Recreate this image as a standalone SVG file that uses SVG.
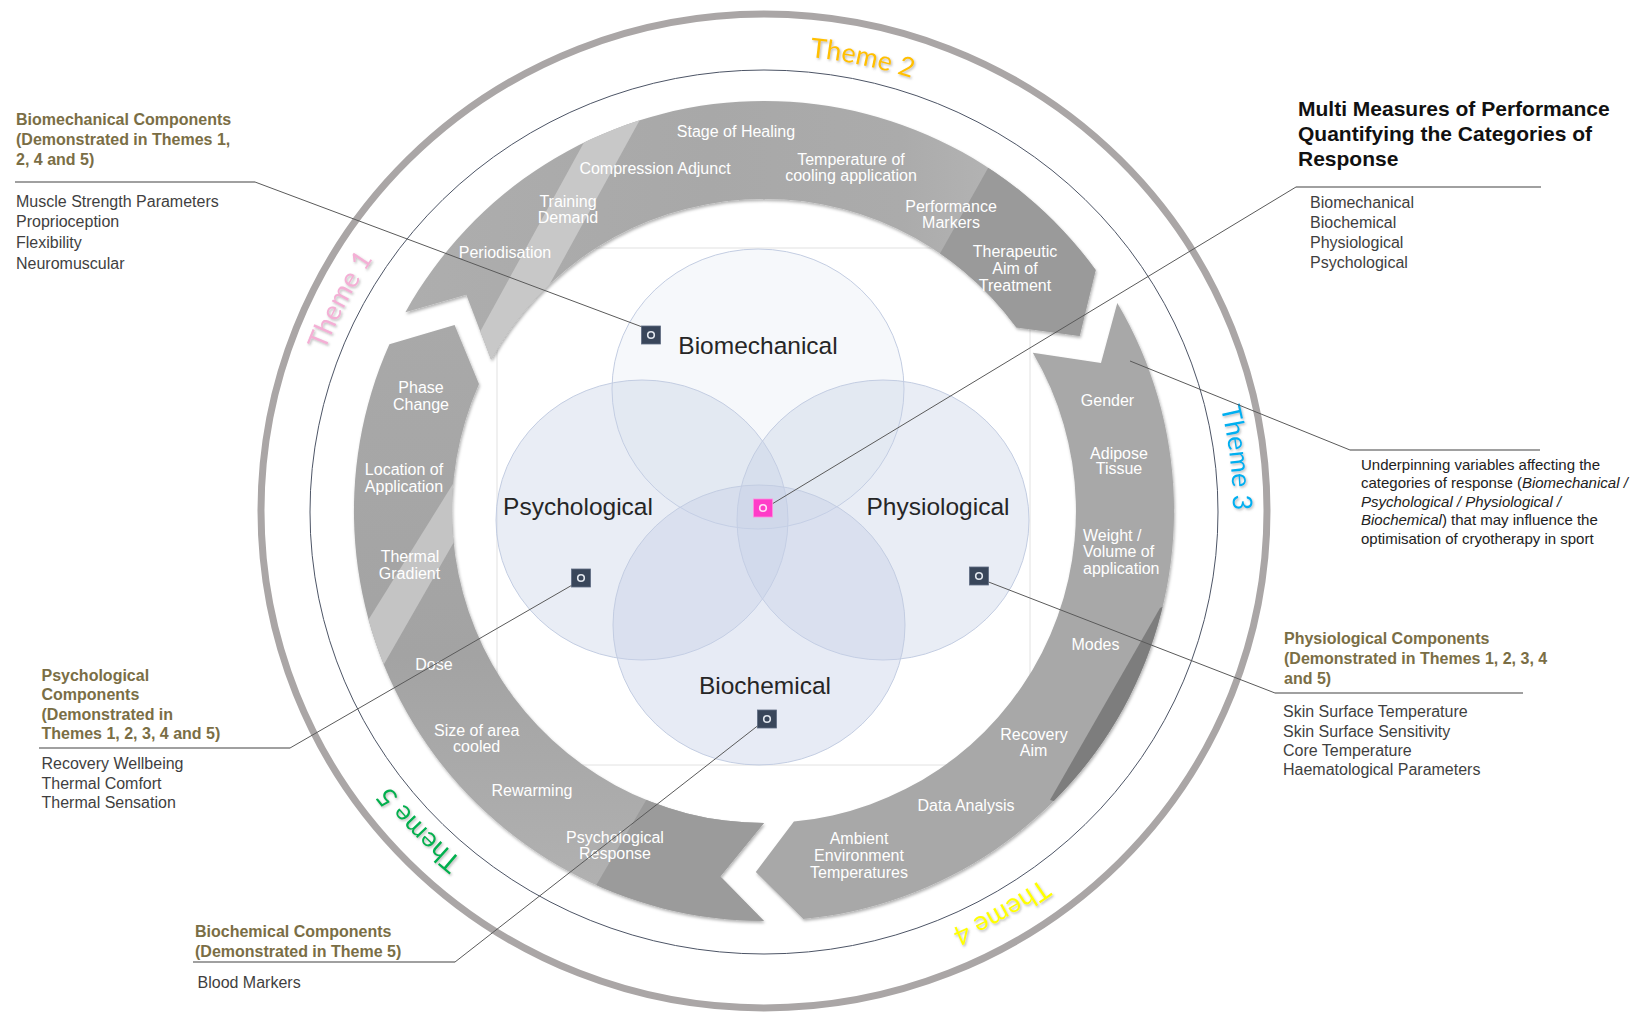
<svg xmlns="http://www.w3.org/2000/svg" width="1642" height="1013" viewBox="0 0 1642 1013">
  <style>
    .lbl { font-family: "Liberation Sans", Arial, sans-serif; font-size: 16px; fill: #ffffff; text-anchor: middle; }
    .lbl-l { font-family: "Liberation Sans", Arial, sans-serif; font-size: 16px; fill: #ffffff; }
    .venn-t { font-family: "Liberation Sans", Arial, sans-serif; font-size: 24.5px; fill: #262626; text-anchor: middle; }
    .head { font-family: "Liberation Sans", Arial, sans-serif; font-weight: bold; font-size: 16px; fill: #7a6e45; }
    .title { font-family: "Liberation Sans", Arial, sans-serif; font-weight: bold; font-size: 21px; fill: #111111; }
    .item { font-family: "Liberation Sans", Arial, sans-serif; font-size: 16px; fill: #3f3f3f; }
    .note { font-family: "Liberation Sans", Arial, sans-serif; font-size: 15px; fill: #222222; }
    .rule { stroke: #808080; stroke-width: 1.3; fill: none; }
    .lead { stroke: #5a5a5a; stroke-width: 1; fill: none; }
    .theme { font-family: Lato, "Open Sans", sans-serif; font-size: 27px; text-anchor: middle; }
    .venn { stroke: #c3cde2; stroke-width: 1; fill: #c5d0e6; }
    .mk rect { fill: #39465a; stroke: #5f6c82; stroke-width: 0.8; }
    .mk circle { fill: none; stroke: #e3e8ef; stroke-width: 1.6; }
    .mk.hub rect { fill: #ff3cc8; stroke: #ff8ee0; }
    .mk.hub circle { stroke: #ffe3f6; }
  </style>
  <defs>
    <filter id="shade" x="-5%" y="-5%" width="110%" height="110%">
      <feDropShadow dx="1" dy="2" stdDeviation="1.6" flood-color="#000000" flood-opacity="0.3"/>
    </filter>
    <filter id="tshadow" x="-20%" y="-20%" width="140%" height="140%">
      <feDropShadow dx="1.2" dy="1.5" stdDeviation="1" flood-color="#6b6b6b" flood-opacity="0.45"/>
    </filter>
    <linearGradient id="gA" gradientUnits="userSpaceOnUse" x1="390" y1="0" x2="1100" y2="0">
      <stop offset="0" stop-color="#aeaeae"/>
      <stop offset="0.45" stop-color="#a8a8a8"/>
      <stop offset="0.72" stop-color="#ababab"/>
      <stop offset="0.85" stop-color="#b3b3b3"/>
    </linearGradient>
    <linearGradient id="gC" gradientUnits="userSpaceOnUse" x1="0" y1="320" x2="0" y2="930">
      <stop offset="0" stop-color="#a9a9a9"/>
      <stop offset="0.55" stop-color="#a3a3a3"/>
      <stop offset="0.8" stop-color="#acacac"/>
      <stop offset="1" stop-color="#b4b4b4"/>
    </linearGradient>
    <!-- arrow outlines on the ring: centre (764,511), outer r 410, inner r 312 -->
    <path id="arrowA" d="M 405.4 312.2 A 410 410 0 0 1 1095.7 270.0 L 1079.7 336.0 L 1016.4 327.6 A 312 312 0 0 0 491.1 359.7 L 466.3 294.7 Z"/>
    <path id="arrowB" d="M 1117.3 302.9 A 410 410 0 0 1 803.3 919.1 L 755.8 871.9 L 793.9 821.6 A 312 312 0 0 0 1032.8 352.7 L 1101.0 363.1 Z"/>
    <path id="arrowC" d="M 764 921 A 410 410 0 0 1 389.4 344.2 L 454.6 325.1 L 479.0 384.1 A 312 312 0 0 0 764 823 L 720.4 876.4 Z"/>
    <clipPath id="clipA"><use href="#arrowA"/></clipPath>
    <clipPath id="clipB"><use href="#arrowB"/></clipPath>
    <clipPath id="clipC"><use href="#arrowC"/></clipPath>
    <!-- baselines for the theme captions, running clockwise -->
    <path id="t1p" d="M 298.5 455.4 A 469 456 0 0 1 444.1 177.5"/>
    <path id="t2p" d="M 698.7 59.4 A 469 456 0 0 1 1012.5 124.3"/>
    <path id="t3p" d="M 1183.4 306.8 A 469 456 0 0 1 1220.2 616.7"/>
    <path id="t4p" d="M 1123.3 804.1 A 469 456 0 0 1 845.4 960.1"/>
    <path id="t5p" d="M 554.0 918.7 A 469 456 0 0 1 333.6 692.1"/>
  </defs>

  <rect width="1642" height="1013" fill="#ffffff"/>

  <!-- outer rings -->
  <g id="rings">
    <ellipse cx="764" cy="511" rx="503" ry="497" fill="none" stroke="#aaa6a6" stroke-width="7"/>
    <ellipse cx="764" cy="512" rx="454" ry="442" fill="none" stroke="#4d5566" stroke-width="1"/>
  </g>

  <!-- theme captions -->
  <g id="themes" class="theme" filter="url(#tshadow)">
    <text fill="#f4afd5"><textPath href="#t1p" startOffset="50%">Theme 1</textPath></text>
    <text fill="#ffc000"><textPath href="#t2p" startOffset="50%">Theme 2</textPath></text>
    <text fill="#00b0f0"><textPath href="#t3p" startOffset="50%">Theme 3</textPath></text>
    <text fill="#ffff00"><textPath href="#t4p" startOffset="50%">Theme 4</textPath></text>
    <text fill="#00b050"><textPath href="#t5p" startOffset="50%">Theme 5</textPath></text>
  </g>

  <!-- frame behind the Venn -->
  <rect x="497" y="248" width="533" height="517" fill="none" stroke="#e2e2e2" stroke-width="1"/>

  <!-- Venn of the four categories of response -->
  <g id="venn">
    <g id="venn-biomechanical">
      <ellipse class="venn" cx="758" cy="389" rx="146" ry="140" fill-opacity="0.15"/>
    </g>
    <g id="venn-psychological">
      <ellipse class="venn" cx="642" cy="520" rx="146" ry="140" fill-opacity="0.38"/>
    </g>
    <g id="venn-physiological">
      <ellipse class="venn" cx="883" cy="520" rx="146" ry="140" fill-opacity="0.38"/>
    </g>
    <g id="venn-biochemical">
      <ellipse class="venn" cx="759" cy="625" rx="146" ry="140" fill-opacity="0.42"/>
    </g>
    <text class="venn-t" x="758" y="354">Biomechanical</text>
    <text class="venn-t" x="578" y="515">Psychological</text>
    <text class="venn-t" x="938" y="515">Physiological</text>
    <text class="venn-t" x="765" y="694">Biochemical</text>
  </g>

  <!-- top arrow -->
  <g id="arrow-top">
    <g filter="url(#shade)"><use href="#arrowA" fill="url(#gA)"/></g>
    <g clip-path="url(#clipA)">
      <polygon points="610,95 653.5,95 497,380 453.6,380" fill="#c8c8c8"/>
      <polygon points="1003.8,140 1130,140 1130,345 888.5,345" fill="#9a9a9a"/>
    </g>
    <text class="lbl" x="736" y="136.5">Stage of Healing</text>
    <text class="lbl" x="655" y="173.5">Compression Adjunct</text>
    <text class="lbl" x="851" y="164.5">Temperature of</text>
    <text class="lbl" x="851" y="181">cooling application</text>
    <text class="lbl" x="568" y="206.5">Training</text>
    <text class="lbl" x="568" y="222.5">Demand</text>
    <text class="lbl" x="505" y="258">Periodisation</text>
    <text class="lbl" x="951" y="211.5">Performance</text>
    <text class="lbl" x="951" y="228">Markers</text>
    <text class="lbl" x="1015" y="257">Therapeutic</text>
    <text class="lbl" x="1015" y="274">Aim of</text>
    <text class="lbl" x="1015" y="291">Treatment</text>
  </g>

  <!-- right arrow -->
  <g id="arrow-right">
    <g filter="url(#shade)"><use href="#arrowB" fill="#a8a8a8"/></g>
    <g clip-path="url(#clipB)">
      <polygon points="1160,608 1260,560 1260,860 1050,800" fill="#7d7d7d"/>
    </g>
    <text class="lbl" x="1107.5" y="406">Gender</text>
    <text class="lbl" x="1119" y="458.5">Adipose</text>
    <text class="lbl" x="1119" y="473.5">Tissue</text>
    <text class="lbl-l" x="1083" y="540.5">Weight /</text>
    <text class="lbl-l" x="1083" y="556.5">Volume of</text>
    <text class="lbl-l" x="1083" y="574">application</text>
    <text class="lbl" x="1095.5" y="650">Modes</text>
    <text class="lbl" x="1034" y="739.5">Recovery</text>
    <text class="lbl" x="1033.5" y="756">Aim</text>
    <text class="lbl" x="966" y="811">Data Analysis</text>
    <text class="lbl" x="859" y="843.5">Ambient</text>
    <text class="lbl" x="859" y="860.5">Environment</text>
    <text class="lbl" x="859" y="878">Temperatures</text>
  </g>

  <!-- left arrow -->
  <g id="arrow-left">
    <g filter="url(#shade)"><use href="#arrowC" fill="url(#gC)"/></g>
    <g clip-path="url(#clipC)">
      <polygon points="474,450 331,680 352,720 478,500" fill="#c4c4c4"/>
      <polygon points="658,780 800,780 800,940 564,940" fill="#9b9b9b"/>
    </g>
    <text class="lbl" x="421" y="392.5">Phase</text>
    <text class="lbl" x="421" y="410">Change</text>
    <text class="lbl" x="404" y="475">Location of</text>
    <text class="lbl" x="404" y="491.5">Application</text>
    <text class="lbl" x="410" y="561.5">Thermal</text>
    <text class="lbl" x="409.5" y="578.5">Gradient</text>
    <text class="lbl" x="434" y="669.5">Dose</text>
    <text class="lbl" x="476.7" y="735.5">Size of area</text>
    <text class="lbl" x="476.7" y="751.5">cooled</text>
    <text class="lbl" x="532" y="796">Rewarming</text>
    <text class="lbl" x="615" y="842.5">Psychological</text>
    <text class="lbl" x="615" y="859">Response</text>
  </g>

  <!-- leader lines from markers to callouts -->
  <g id="connectors" class="lead">
    <line x1="255" y1="182" x2="645" y2="328"/>
    <line x1="1296" y1="187" x2="772" y2="504"/>
    <line x1="1350" y1="450" x2="1130" y2="361"/>
    <line x1="1275" y1="693" x2="986" y2="581"/>
    <line x1="290" y1="748" x2="574" y2="584"/>
    <line x1="455" y1="962" x2="760" y2="724"/>
  </g>

  <!-- markers -->
  <g id="marker-biomechanical" class="mk"><rect x="641.5" y="326" width="19" height="18"/><circle cx="651" cy="335" r="3.3"/></g>
  <g id="marker-hub" class="mk hub"><rect x="753.5" y="499" width="19" height="18"/><circle cx="763" cy="508" r="3.3"/></g>
  <g id="marker-psychological" class="mk"><rect x="571.5" y="569" width="19" height="18"/><circle cx="581" cy="578" r="3.3"/></g>
  <g id="marker-physiological" class="mk"><rect x="969.5" y="567" width="19" height="18"/><circle cx="979" cy="576" r="3.3"/></g>
  <g id="marker-biochemical" class="mk"><rect x="757.5" y="710" width="19" height="18"/><circle cx="767" cy="719" r="3.3"/></g>

  <!-- callouts -->
  <g id="callout-biomechanical">
    <text class="head" x="16" y="125">Biomechanical Components</text>
    <text class="head" x="16" y="145">(Demonstrated in Themes 1,</text>
    <text class="head" x="16" y="165">2, 4 and 5)</text>
    <line class="rule" x1="15" y1="182" x2="255" y2="182"/>
    <text class="item" x="16" y="207">Muscle Strength Parameters</text>
    <text class="item" x="16" y="227">Proprioception</text>
    <text class="item" x="16" y="248">Flexibility</text>
    <text class="item" x="16" y="269">Neuromuscular</text>
  </g>

  <g id="callout-measures">
    <text class="title" x="1298" y="116">Multi Measures of Performance</text>
    <text class="title" x="1298" y="141">Quantifying the Categories of</text>
    <text class="title" x="1298" y="165.5">Response</text>
    <line class="rule" x1="1296" y1="187" x2="1541" y2="187"/>
    <text class="item" x="1310" y="207.5">Biomechanical</text>
    <text class="item" x="1310" y="227.5">Biochemical</text>
    <text class="item" x="1310" y="247.5">Physiological</text>
    <text class="item" x="1310" y="267.5">Psychological</text>
  </g>

  <g id="callout-variables">
    <line class="rule" x1="1350" y1="450" x2="1540" y2="450"/>
    <text class="note" x="1361" y="469.5">Underpinning variables affecting the</text>
    <text class="note" x="1361" y="488">categories of response (<tspan font-style="italic">Biomechanical /</tspan></text>
    <text class="note" x="1361" y="506.7" font-style="italic">Psychological / Physiological /</text>
    <text class="note" x="1361" y="525.3"><tspan font-style="italic">Biochemical</tspan>) that may influence the</text>
    <text class="note" x="1361" y="544">optimisation of cryotherapy in sport</text>
  </g>

  <g id="callout-physiological">
    <text class="head" x="1284" y="644">Physiological Components</text>
    <text class="head" x="1284" y="664">(Demonstrated in Themes 1, 2, 3, 4</text>
    <text class="head" x="1284" y="684">and 5)</text>
    <line class="rule" x1="1275" y1="693" x2="1523" y2="693"/>
    <text class="item" x="1283" y="717">Skin Surface Temperature</text>
    <text class="item" x="1283" y="736.5">Skin Surface Sensitivity</text>
    <text class="item" x="1283" y="756">Core Temperature</text>
    <text class="item" x="1283" y="775">Haematological Parameters</text>
  </g>

  <g id="callout-psychological">
    <text class="head" x="41.5" y="680.5">Psychological</text>
    <text class="head" x="41.5" y="700">Components</text>
    <text class="head" x="41.5" y="719.5">(Demonstrated in</text>
    <text class="head" x="41.5" y="739">Themes 1, 2, 3, 4 and 5)</text>
    <line class="rule" x1="39" y1="748" x2="290" y2="748"/>
    <text class="item" x="41.5" y="769">Recovery  Wellbeing</text>
    <text class="item" x="41.5" y="788.5">Thermal Comfort</text>
    <text class="item" x="41.5" y="808">Thermal Sensation</text>
  </g>

  <g id="callout-biochemical">
    <text class="head" x="195" y="936.7">Biochemical Components</text>
    <text class="head" x="195" y="957">(Demonstrated in Theme 5)</text>
    <line class="rule" x1="193" y1="962" x2="455" y2="962"/>
    <text class="item" x="197.5" y="987.5">Blood Markers</text>
  </g>
</svg>
